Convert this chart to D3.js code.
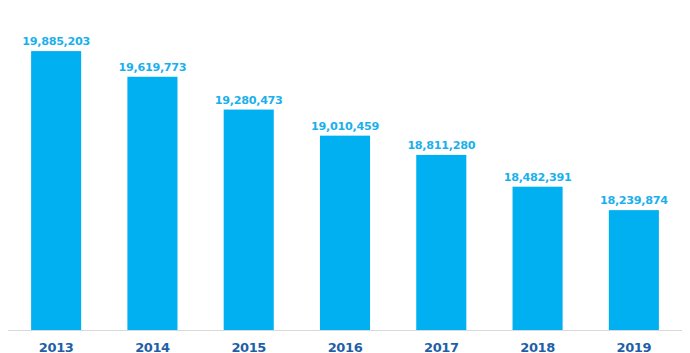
<!DOCTYPE html>
<html>
<head>
<meta charset="utf-8">
<script src="https://cdnjs.cloudflare.com/ajax/libs/d3/7.8.5/d3.min.js"></script>
<style>
  body { margin: 0; background: #fff; }
  text { font-family: "DejaVu Sans", Verdana, sans-serif; font-weight: bold; }
</style>
</head>
<body>
<script>
// data
var years = ["2013", "2014", "2015", "2016", "2017", "2018", "2019"];
var values = [19885203, 19619773, 19280473, 19010459, 18811280, 18482391, 18239874];

var width = 690, height = 353;
var baseY = 330;

var svg = d3.select("body").append("svg")
    .attr("width", width)
    .attr("height", height);

// band scale for the years
var x = d3.scaleBand()
    .domain(years)
    .range([8, 682])
    .paddingInner(0.48)
    .paddingOuter(0.24);

// value axis does not start at zero
var y = d3.scaleLinear()
    .domain([17000000, 20000000])
    .range([baseY, 40]);

var fmt = d3.format(",");

var data = years.map(function(d, i) { return {year: d, value: values[i]}; });

svg.selectAll("rect.bar").data(data).enter()
  .append("rect")
    .attr("class", "bar")
    .attr("x", function(d) { return x(d.year); })
    .attr("y", function(d) { return y(d.value); })
    .attr("width", x.bandwidth())
    .attr("height", function(d) { return baseY - y(d.value); })
    .style("fill", "#00b0f0");

svg.selectAll("text.val").data(data).enter()
  .append("text")
    .attr("class", "val")
    .attr("x", function(d) { return x(d.year) + x.bandwidth() / 2; })
    .attr("y", function(d) { return y(d.value) - 6; })
    .attr("text-anchor", "middle")
    .style("font-size", "11.2px")
    .style("letter-spacing", "-0.3px")
    .style("fill", "#1ab0ec")
    .text(function(d) { return fmt(d.value); });

// x axis: baseline + year labels
var xAxis = svg.append("g")
    .attr("transform", "translate(0," + baseY + ")")
    .call(d3.axisBottom(x).tickSize(0).tickPadding(0));

xAxis.select(".domain")
    .attr("d", "M8,0.5H682")
    .attr("stroke", "#d9d9d9");

xAxis.selectAll("text")
    .attr("dy", null)
    .attr("y", 21.5)
    .style("font-size", "13px")
    .style("letter-spacing", "-0.4px")
    .style("fill", "#1f5fa8")
    .style("font-family", null);
</script>
</body>
</html>
